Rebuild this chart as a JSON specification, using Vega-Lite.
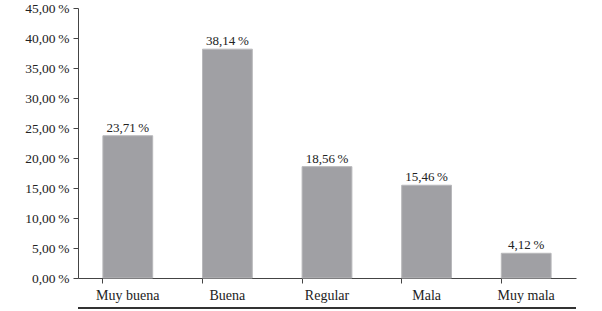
{
  "$schema": "https://vega.github.io/schema/vega-lite/v6.json",
  "autosize": "none",
  "width": 498,
  "height": 270,
  "padding": {"left": 78, "top": 8, "right": 26, "bottom": 33},
  "background": "white",
  "config": {
    "view": {"stroke": null},
    "font": "Times New Roman, Liberation Serif, serif",
    "axis": {"grid": false, "domainColor": "#444", "tickColor": "#444", "labelColor": "#222", "labelFont": "Times New Roman, Liberation Serif, serif", "labelFontSize": 13.5, "labelOverlap": false}
  },
  "data": {
    "values": [
      {"calidad": "Muy buena", "pct": 23.71},
      {"calidad": "Buena", "pct": 38.14},
      {"calidad": "Regular", "pct": 18.56},
      {"calidad": "Mala", "pct": 15.46},
      {"calidad": "Muy mala", "pct": 4.12}
    ]
  },
  "encoding": {
    "x": {
      "field": "calidad", "type": "nominal", "sort": null, "title": null,
      "scale": {"paddingInner": 0.5, "paddingOuter": 0.25},
      "axis": {"labelAngle": 0, "bandPosition": 0, "tickSize": 5, "labelPadding": 5, "labelFontSize": 14}
    },
    "y": {
      "field": "pct", "type": "quantitative", "title": null,
      "scale": {"domain": [0, 45]},
      "axis": {"values": [0,5,10,15,20,25,30,35,40,45], "tickSize": 5, "labelPadding": 4, "labelOverlap": false,
               "labelExpr": "replace(format(datum.value, '.2f'), '.', ',') + '\u2009%'"}
    }
  },
  "layer": [
    {
      "mark": {"type": "bar", "color": "#a0a0a4", "stroke": "#b8b8bb", "strokeWidth": 1}
    },
    {
      "mark": {"type": "text", "dy": -8, "fontSize": 13, "color": "#222", "font": "Times New Roman, Liberation Serif, serif",
               "text": {"expr": "replace(format(datum.pct, '.2f'), '.', ',') + '\u2009%'"}}
    },
    {
      "mark": {"type": "rule", "color": "#333", "strokeWidth": 1.5},
      "encoding": {"x": null, "y": {"datum": -5, "type": "quantitative"}}
    }
  ]
}
